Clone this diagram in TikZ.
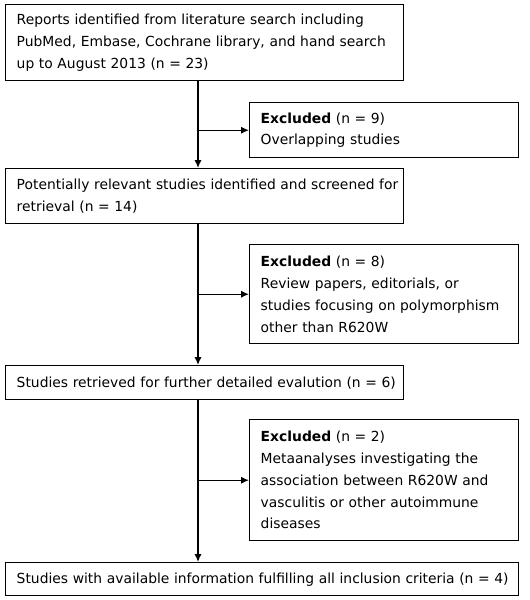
\documentclass[tikz,border=0pt]{standalone}
\usepackage{fontspec}
\setmainfont{DejaVu Sans}
\usetikzlibrary{arrows.meta}

\begin{document}
\begin{tikzpicture}[x=0.75pt,y=0.75pt,yscale=-1,xscale=1,
  box/.style={draw, line width=1.1pt, anchor=north west, align=left,
    inner xsep=8.25pt, inner ysep=0pt, font=\fontsize{10.4}{16.3}\selectfont},
  flow/.style={line width=1.1pt, -{Latex[length=6pt,width=5.5pt]}}]
\useasboundingbox (0,0) rectangle (530,600);

%spine of the flow chart
\coordinate (spine) at (198,0);

% Main boxes
\node[box, text width=282pt, minimum height=57pt] (reports) at (5,4)
  {\mbox{Reports identified from literature search including}\\\mbox{PubMed, Embase, Cochrane library, and hand search}\\\mbox{up to August 2013 (n = 23)}};
\node[box, text width=282pt, minimum height=41.25pt] (screened) at (5,168)
  {\mbox{Potentially relevant studies identified and screened for}\\\mbox{retrieval (n = 14)}};
\node[box, text width=282pt, minimum height=25.5pt] (retrieved) at (5,365)
  {\mbox{Studies retrieved for further detailed evalution (n = 6)}};
\node[box, text width=368.25pt, minimum height=24.75pt] (included) at (5,562)
  {\mbox{Studies with available information fulfilling all inclusion criteria (n = 4)}};

% Excluded boxes
\node[box, text width=185.25pt, minimum height=41.25pt] (excl1) at (249,102)
  {\textbf{Excluded} (n = 9)\\Overlapping studies};
\node[box, text width=185.25pt, minimum height=74.25pt] (excl2) at (249,244)
  {\textbf{Excluded} (n = 8)\\Review papers, editorials, or\\\mbox{studies focusing on polymorphism}\\other than R620W};
\node[box, text width=185.25pt, minimum height=90.75pt] (excl3) at (249,419)
  {\textbf{Excluded} (n = 2)\\Metaanalyses investigating the\\\mbox{association between R620W and}\\vasculitis or other autoimmune\\diseases};

% Arrows down
\draw[flow] (reports.south -| spine) -- (screened.north -| spine);
\draw[flow] (screened.south -| spine) -- (retrieved.north -| spine);
\draw[flow] (retrieved.south -| spine) -- (included.north -| spine);

% Arrows to the right
\draw[flow] (spine |- excl1.west) -- (excl1.west);
\draw[flow] (spine |- excl2.west) -- (excl2.west);
\draw[flow] (spine |- excl3.west) -- (excl3.west);

\end{tikzpicture}
\end{document}
